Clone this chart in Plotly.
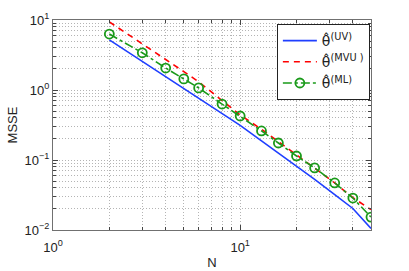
import plotly.graph_objects as go

N = [2, 3, 4, 5, 6, 8, 10, 13, 16, 20, 25, 32, 40, 50]
msse_uv = [5.2, 2.56, 1.55, 1.045, 0.77, 0.463, 0.313, 0.188, 0.126, 0.082, 0.053, 0.032, 0.0203, 0.0105]
msse_mvu = [9.4, 4.6, 2.74, 1.83, 1.31, 0.72, 0.44, 0.275, 0.182, 0.117, 0.077, 0.047, 0.029, 0.0195]
msse_ml = [6.3, 3.4, 2.06, 1.44, 1.07, 0.63, 0.425, 0.26, 0.175, 0.114, 0.077, 0.047, 0.0286, 0.0153]

names = ["θ\u0302<sup>(UV)</sup>", "θ\u0302<sup>(MVU )</sup>", "θ\u0302<sup>(ML)</sup>"]

x_major = [1, 10]
x_major_text = ["10<sup>0</sup>", "10<sup>1</sup>"]
y_major = [0.01, 0.1, 1, 10]
y_major_text = ["10<sup>−2</sup>", "10<sup>−1</sup>", "10<sup>0</sup>", "10<sup>1</sup>"]

x_minor = [m * d for d in (1, 10) for m in range(2, 10) if m * d <= 50]
y_minor = [m * d for d in (0.01, 0.1, 1) for m in range(2, 10)]

FONT = "Liberation Sans, Arial, sans-serif"
GRID = "#b4b4b4"
GDASH = "1px,2px"

fig = go.Figure()
fig.add_trace(go.Scatter(x=N, y=msse_uv, mode="lines", name=names[0],
                         line=dict(color="#1f3fff", width=1.6)))
fig.add_trace(go.Scatter(x=N, y=msse_mvu, mode="lines", name=names[1],
                         line=dict(color="#ff0000", width=1.6, dash="6px,5px")))
fig.add_trace(go.Scatter(x=N, y=msse_ml, mode="lines+markers", name=names[2],
                         line=dict(color="#1a9a1a", width=1.6, dash="dashdot"),
                         marker=dict(symbol="circle-open", size=9, color="#1a9a1a",
                                     line=dict(width=1.8, color="#1a9a1a"))))

axis_common = dict(
    type="log", showline=True, linecolor="#707070", linewidth=1, mirror="allticks",
    ticks="inside", ticklen=5, tickcolor="#444444", automargin=False,
    showgrid=True, gridcolor=GRID, griddash=GDASH, gridwidth=1,
    zeroline=False, tickfont=dict(family=FONT, size=13, color="#222222"),
)

fig.update_xaxes(**axis_common, range=[0, 1.69897], tickmode="array",
                 tickvals=x_major, ticktext=x_major_text, ticklabelstandoff=5,
                 minor=dict(tickvals=x_minor, ticks="inside", ticklen=3, tickcolor="#444444",
                            showgrid=True, gridcolor=GRID, griddash=GDASH),
                 title=dict(text="N", font=dict(family=FONT, size=13, color="#222222"),
                            standoff=4))
fig.update_yaxes(**axis_common, range=[-2, 1], tickmode="array",
                 tickvals=y_major, ticktext=y_major_text,
                 minor=dict(tickvals=y_minor, ticks="inside", ticklen=3, tickcolor="#444444",
                            showgrid=True, gridcolor=GRID, griddash=GDASH),
                 title=dict(text="MSSE", font=dict(family=FONT, size=13, color="#222222"),
                            standoff=4))

fig.update_layout(
    width=409, height=271,
    margin=dict(l=53, r=38, t=20, b=41, autoexpand=False),
    plot_bgcolor="white", paper_bgcolor="white",
    showlegend=True,
    legend=dict(x=0.704, y=0.981, xanchor="left", yanchor="top",
                bgcolor="white", bordercolor="#222222", borderwidth=1,
                font=dict(family="DejaVu Sans, " + FONT, size=14, color="#222222"),
                tracegroupgap=0, itemwidth=34),
)

fig.write_html("out.html", config={"displayModeBar": False},
               post_script="document.body.style.margin='0';document.body.style.overflow='hidden';")
